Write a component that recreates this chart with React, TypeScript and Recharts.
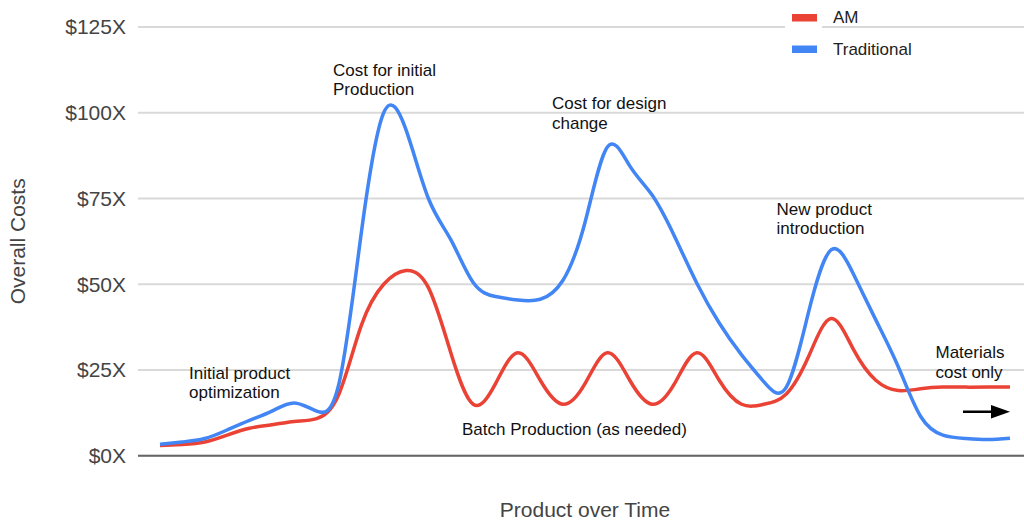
import React from "react";
import { LineChart, Line, CartesianGrid, XAxis, YAxis } from "recharts";

// time steps along the x axis (no tick labels shown)
const periods = [
  0, 1, 2, 3, 4, 5, 6, 7, 8, 9, 10, 11, 12, 13, 14, 15, 16, 17, 18, 19,
  20, 21, 22, 23, 24, 25, 26, 27, 28, 29, 30, 31, 32, 33, 34, 35, 36, 37, 38,
];

const amCosts = [
  3, 3.3, 4, 6, 8, 9, 10, 10.8, 18, 38, 50, 54, 49, 30, 15, 21, 30, 22, 15, 21,
  30, 22, 15, 21, 30, 22, 15, 15, 18, 29, 40, 31, 22, 19, 19.5, 20, 20, 20, 20,
];

const traditionalCosts = [
  3.3, 4, 5, 7.5, 10.3, 13, 15.4, 13, 21, 65, 100, 95, 75, 63, 50.5, 46.4, 45.4, 45.6, 51, 68,
  90, 84.5, 76, 64, 50.3, 38.7, 29.4, 21.5, 20, 42, 60, 53, 39.6, 26, 11.5, 6, 5, 4.7, 5.1,
];

const yTicks = [0, 25, 50, 75, 100, 125];

const series = [
  { key: "am", name: "AM", color: "#ea4335" },
  { key: "traditional", name: "Traditional", color: "#4285f4" },
];

const data = periods.map((p, i) => ({
  period: p,
  am: amCosts[i],
  traditional: traditionalCosts[i],
}));

const FONT = "Arial, 'Liberation Sans', sans-serif";

const notes = [
  { lines: ["Initial product", "optimization"], x: 189, y: 373 },
  { lines: ["Cost for initial", "Production"], x: 333, y: 70 },
  { lines: ["Cost for design", "change"], x: 552, y: 103.5 },
  { lines: ["New product", "introduction"], x: 776.5, y: 209 },
  { lines: ["Materials", "cost only"], x: 935.5, y: 352.5 },
  { lines: ["Batch Production (as needed)"], x: 462, y: 429 },
];

const Overlay = () => (
  <svg
    width={1024}
    height={523}
    style={{ position: "absolute", left: 0, top: 0, pointerEvents: "none" }}
  >
    {/* legend */}
    <rect x={785} y={23} width={37} height={8} fill="#fff" />
    {series.map((s, i) => (
      <g key={s.key}>
        <rect x={792} y={14 + i * 31.5} width={25} height={7.5} fill={s.color} />
        <text
          x={833}
          y={17.5 + i * 31.5}
          dominantBaseline="central"
          fontFamily={FONT}
          fontSize={17}
          fill="#222"
        >
          {s.name}
        </text>
      </g>
    ))}
    {notes.map((n, i) => (
      <text key={i} fontFamily={FONT} fontSize={17} fill="#111">
        {n.lines.map((l, j) => (
          <tspan key={j} x={n.x} y={n.y + j * 19.5} dominantBaseline="central">
            {l}
          </tspan>
        ))}
      </text>
    ))}
    {/* arrow */}
    <line x1={963} y1={411.7} x2={996} y2={411.7} stroke="#000" strokeWidth={2.5} />
    <polygon points="991,405 1010,411.7 991,418.4" fill="#000" />
  </svg>
);

export default function App() {
  return (
    <div style={{ position: "absolute", left: 0, top: 0, width: 1024, height: 523, background: "#fff" }}>
      <LineChart
        width={1024}
        height={523}
        data={data}
        margin={{ top: 27, right: 0, left: 0, bottom: 0 }}
      >
        <CartesianGrid vertical={false} stroke="#d9d9d9" strokeWidth={2} />
        <XAxis
          dataKey="period"
          type="category"
          height={67.3}
          padding={{ left: 22, right: 14 }}
          tick={false}
          tickLine={false}
          axisLine={{ stroke: "#666", strokeWidth: 2 }}
          label={{
            value: "Product over Time",
            position: "insideBottom",
            offset: 6,
            dx: 4,
            style: { fontFamily: FONT, fontSize: 21, fill: "#444" },
          }}
        />
        <YAxis
          width={138}
          domain={[0, 125]}
          ticks={yTicks}
          axisLine={false}
          tickLine={false}
          tickSize={0}
          tickMargin={12}
          tickFormatter={(v) => `$${v}X`}
          tick={{ fontFamily: FONT, fontSize: 21, fill: "#444" }}
          label={{
            value: "Overall Costs",
            angle: -90,
            position: "insideLeft",
            offset: 18,
            style: { textAnchor: "middle", fontFamily: FONT, fontSize: 21, fill: "#444" },
          }}
        />
        {series.map((s) => (
          <Line
            key={s.key}
            type="natural"
            dataKey={s.key}
            name={s.name}
            stroke={s.color}
            strokeWidth={3.5}
            dot={false}
            activeDot={false}
            isAnimationActive={false}
          />
        ))}
      </LineChart>
      <Overlay />
    </div>
  );
}
